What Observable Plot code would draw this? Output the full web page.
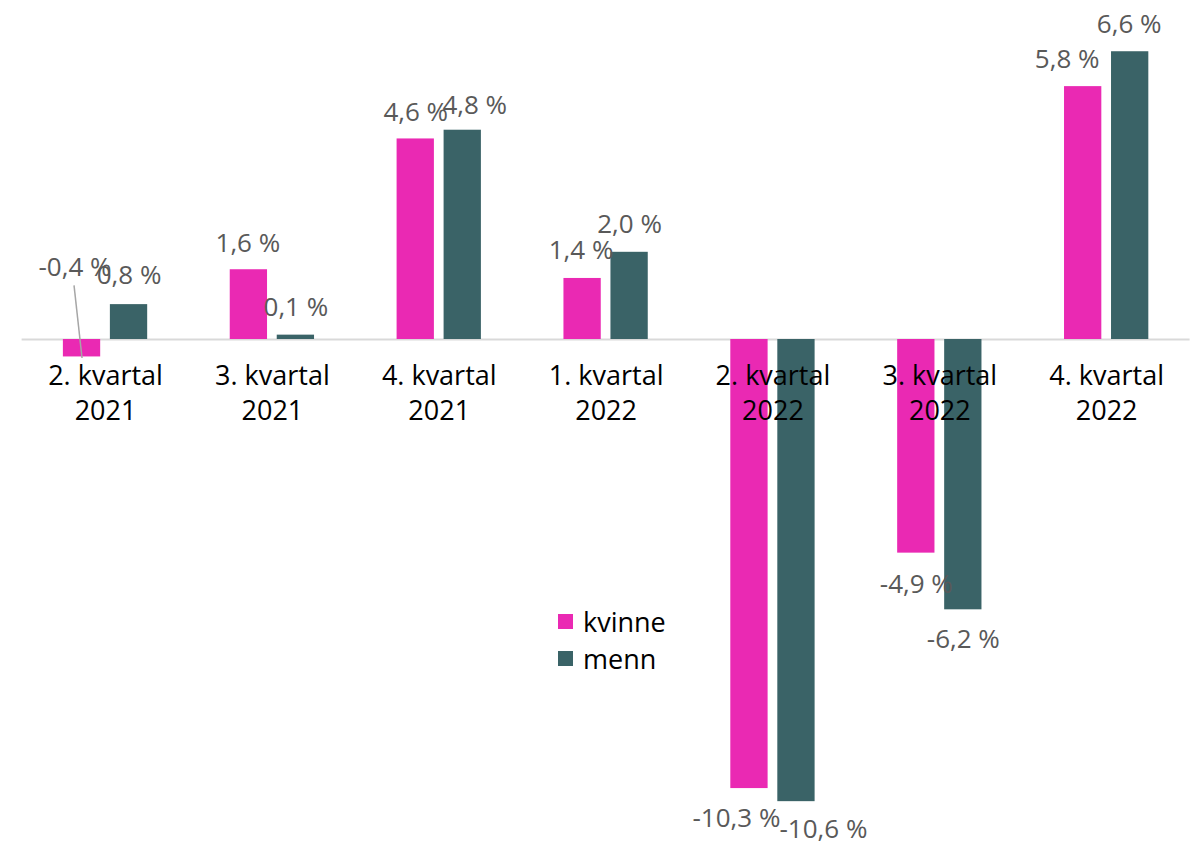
<!DOCTYPE html>
<html>
<head>
<meta charset="utf-8">
<script src="https://cdn.jsdelivr.net/npm/d3@7"></script>
<script src="https://cdn.jsdelivr.net/npm/@observablehq/plot@0.6"></script>
<style>
  body { margin: 0; background: #fff; font-family: "Open Sans", sans-serif; }
  #wrap { position: relative; width: 1195px; height: 842px; }
  #legend { position: absolute; left: 558px; top: 603px; font-size: 27px; color: #000; line-height: 1; }
  #legend .item { display: flex; align-items: center; height: 37px; }
  #legend .sw { width: 15px; height: 15px; margin-right: 10px; flex: none; }
</style>
</head>
<body>
<div id="wrap"><div id="legend"></div></div>
<script>
// ---- data ----
const categories = [
  "2. kvartal\n2021", "3. kvartal\n2021", "4. kvartal\n2021", "1. kvartal\n2022",
  "2. kvartal\n2022", "3. kvartal\n2022", "4. kvartal\n2022"
];
const seriesNames = ["kvinne", "menn"];
const kvinne = [-0.4, 1.6, 4.6, 1.4, -10.3, -4.9, 5.8];
const menn   = [0.8, 0.1, 4.8, 2.0, -10.6, -6.2, 6.6];
const seriesColors = ["#EA29B3", "#3A6367"];

// manual label nudges (pixels, relative to the end of each bar)
const labelDxKvinne = [-7, -1, 0, -1.5, -13, 0, -16];
const labelDyKvinne = [-89, -26, -26.5, -27.5, 30, 32, -26.5];
const labelDxMenn   = [0, 0, 12, 0, 27, 0, -1];
const labelDyMenn   = [-29, -27.5, -25, -28, 28.5, 30, -27];

// ---- build ----
const fmt = v => v.toFixed(1).replace(".", ",") + " %";
const rows = [];
categories.forEach((c, i) => {
  rows.push({cat: c, series: "kvinne", value: kvinne[i], dx: labelDxKvinne[i], dy: labelDyKvinne[i]});
  rows.push({cat: c, series: "menn", value: menn[i], dx: labelDxMenn[i], dy: labelDyMenn[i]});
});

const barW = 37.3, half = 23.5; // bar width and offset of bar centre from group centre
const W = 1195, H = 842, mL = 21.6, mR = 5.4;
const step = (W - mL - mR) / categories.length;
const inNear = step / 2 - half - barW / 2;
const inFar = step / 2 + half - barW / 2;

const labelMarks = rows.map(r => Plot.text([r], {
  x: "cat", y: "value", text: d => fmt(d.value),
  dx: (r.series === "kvinne" ? -half : half) + r.dx, dy: r.dy,
  fontSize: 26, fill: "#595959", lineAnchor: "middle", textAnchor: "middle"
}));

const plot = Plot.plot({
  width: W, height: H,
  marginLeft: mL, marginRight: mR, marginTop: 33.8, marginBottom: 23.4,
  style: {fontFamily: "'Open Sans', sans-serif", background: "transparent"},
  x: {type: "band", domain: categories, padding: 0, round: false, axis: null},
  y: {domain: [-11, 7], axis: null},
  marks: [
    Plot.ruleY([0], {stroke: "#d9d9d9", strokeWidth: 2}),
    Plot.barY(rows.filter(r => r.series === "kvinne"), {
      x: "cat", y: "value", fill: seriesColors[0], insetLeft: inNear, insetRight: inFar
    }),
    Plot.barY(rows.filter(r => r.series === "menn"), {
      x: "cat", y: "value", fill: seriesColors[1], insetLeft: inFar, insetRight: inNear
    }),
    Plot.text(categories, {
      x: d => d, y: () => 0, text: d => d, dy: 52, lineHeight: 1.3,
      fontSize: 27, fill: "#000", lineAnchor: "middle", textAnchor: "middle"
    }),
    ...labelMarks
  ]
});

// leader line from the "-0,4 %" label to its bar
const xs = plot.scale("x"), ys = plot.scale("y");
const cx0 = xs.apply(categories[0]) + xs.bandwidth / 2 - half;
const yEnd = ys.apply(kvinne[0]);
d3.select(plot).append("line")
  .attr("x1", cx0 + labelDxKvinne[0] - 0.5).attr("y1", yEnd + labelDyKvinne[0] + 18)
  .attr("x2", cx0 + 0.5).attr("y2", yEnd + 1.6)
  .attr("stroke", "#a6a6a6").attr("stroke-width", 1.5);

document.getElementById("wrap").prepend(plot);

// legend
const leg = document.getElementById("legend");
seriesNames.forEach((n, i) => {
  const it = document.createElement("div");
  it.className = "item";
  const sw = document.createElement("span");
  sw.className = "sw";
  sw.style.background = seriesColors[i];
  const tx = document.createElement("span");
  tx.textContent = n;
  it.appendChild(sw); it.appendChild(tx);
  leg.appendChild(it);
});
</script>
</body>
</html>
